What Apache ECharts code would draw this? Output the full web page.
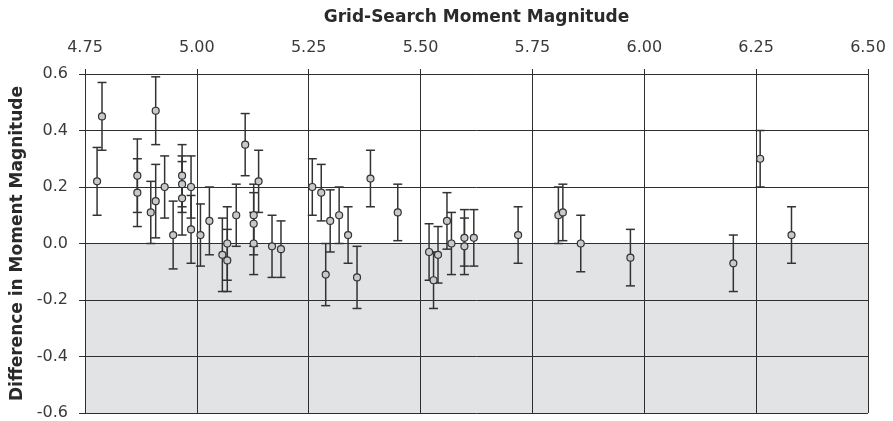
<!DOCTYPE html>
<html>
<head>
<meta charset="utf-8">
<script src="https://cdn.jsdelivr.net/npm/echarts@6/dist/echarts.min.js"></script>
<style>
 html, body { margin: 0; padding: 0; background: #fff; }
 #main { width: 893px; height: 421px; }
</style>
</head>
<body>
<div id="main"></div>
<script>
// grid-search magnitude, difference, error (half width)
var mags = [4.777, 4.788, 4.867, 4.867, 4.897, 4.908, 4.908, 4.928, 4.947, 4.967,
            4.967, 4.967, 4.987, 4.987, 5.008, 5.028, 5.057, 5.068, 5.068, 5.088,
            5.108, 5.127, 5.127, 5.127, 5.138, 5.168, 5.188, 5.258, 5.278, 5.288,
            5.298, 5.318, 5.338, 5.358, 5.388, 5.449, 5.519, 5.529, 5.539, 5.559,
            5.569, 5.598, 5.598, 5.619, 5.718, 5.808, 5.818, 5.858, 5.969, 6.199,
            6.259, 6.329];
var diffs = [0.22, 0.45, 0.24, 0.18, 0.11, 0.47, 0.15, 0.20, 0.03, 0.24,
             0.21, 0.16, 0.20, 0.05, 0.03, 0.08, -0.04, 0.00, -0.06, 0.10,
             0.35, 0.10, 0.07, 0.00, 0.22, -0.01, -0.02, 0.20, 0.18, -0.11,
             0.08, 0.10, 0.03, -0.12, 0.23, 0.11, -0.03, -0.13, -0.04, 0.08,
             0.00, 0.02, -0.01, 0.02, 0.03, 0.10, 0.11, 0.00, -0.05, -0.07,
             0.30, 0.03];
var errs = [0.12, 0.12, 0.13, 0.12, 0.11, 0.12, 0.13, 0.11, 0.12, 0.11,
            0.10, 0.13, 0.11, 0.12, 0.11, 0.12, 0.13, 0.13, 0.11, 0.11,
            0.11, 0.11, 0.11, 0.11, 0.11, 0.11, 0.10, 0.10, 0.10, 0.11,
            0.11, 0.10, 0.10, 0.11, 0.10, 0.10, 0.10, 0.10, 0.10, 0.10,
            0.11, 0.10, 0.10, 0.10, 0.10, 0.10, 0.10, 0.10, 0.10, 0.10,
            0.10, 0.10];

var xTicks = { min: 4.75, max: 6.5, step: 0.25 };
var yTicks = { min: -0.6, max: 0.6, step: 0.2 };

var myChart = echarts.init(document.getElementById('main'));

var points = [], bars = [];
for (var i = 0; i < mags.length; i++) {
  points.push([mags[i], diffs[i]]);
  bars.push([mags[i], diffs[i] - errs[i], diffs[i] + errs[i]]);
}

var lineCol = '#2e2e2e';
var textStyle = { fontFamily: 'DejaVu Sans', fontSize: 16, color: '#3a3a3a' };
var nameStyle = { fontFamily: 'DejaVu Sans', fontSize: 17, fontWeight: 'bold', color: '#2a2a2a' };

var option = {
  animation: false,
  grid: { left: 85, right: 25, top: 74, bottom: 7 },
  xAxis: {
    type: 'value',
    position: 'top',
    z: 2,
    min: xTicks.min, max: xTicks.max, interval: xTicks.step,
    name: 'Grid-Search Moment Magnitude',
    nameLocation: 'middle',
    nameGap: 48,
    nameTextStyle: nameStyle,
    axisLine: { show: true, onZero: false, lineStyle: { color: lineCol, width: 1 } },
    axisTick: { show: true, inside: false, length: 5, lineStyle: { color: lineCol } },
    axisLabel: Object.assign({ margin: 18, formatter: function (v) { return v.toFixed(2); } }, textStyle),
    splitLine: { show: true, lineStyle: { color: lineCol, width: 1 } }
  },
  yAxis: {
    type: 'value',
    z: 2,
    min: yTicks.min, max: yTicks.max, interval: yTicks.step,
    name: 'Difference in Moment Magnitude',
    nameLocation: 'middle',
    nameGap: 56,
    nameTextStyle: nameStyle,
    axisLine: { show: true, onZero: false, lineStyle: { color: lineCol, width: 1 } },
    axisTick: { show: true, length: 6, lineStyle: { color: lineCol } },
    axisLabel: Object.assign({ margin: 17, formatter: function (v) { return v.toFixed(1); } }, textStyle),
    splitLine: { show: true, lineStyle: { color: lineCol, width: 1 } }
  },
  series: [
    {
      // grey band below zero
      type: 'line',
      z: 1,
      data: [[4.75, 0]],
      symbol: 'none',
      lineStyle: { opacity: 0 },
      markArea: {
        silent: true,
        itemStyle: { color: '#e2e3e5' },
        data: [[{ yAxis: -0.6 }, { yAxis: 0 }]]
      }
    },
    {
      type: 'custom',
      z: 3,
      data: bars,
      renderItem: function (params, api) {
        var x = api.value(0);
        var lo = api.coord([x, api.value(1)]);
        var hi = api.coord([x, api.value(2)]);
        var w = 4.5;
        var st = { stroke: '#333', lineWidth: 1.5 };
        return {
          type: 'group',
          children: [
            { type: 'line', shape: { x1: hi[0], y1: hi[1], x2: lo[0], y2: lo[1] }, style: st },
            { type: 'line', shape: { x1: hi[0] - w, y1: hi[1], x2: hi[0] + w, y2: hi[1] }, style: st },
            { type: 'line', shape: { x1: lo[0] - w, y1: lo[1], x2: lo[0] + w, y2: lo[1] }, style: st }
          ]
        };
      }
    },
    {
      type: 'scatter',
      z: 4,
      data: points,
      symbol: 'circle',
      symbolSize: 7,
      itemStyle: { color: '#c6c9ce', borderColor: '#333', borderWidth: 1.2, opacity: 1 }
    }
  ]
};

myChart.setOption(option);
</script>
</body>
</html>
